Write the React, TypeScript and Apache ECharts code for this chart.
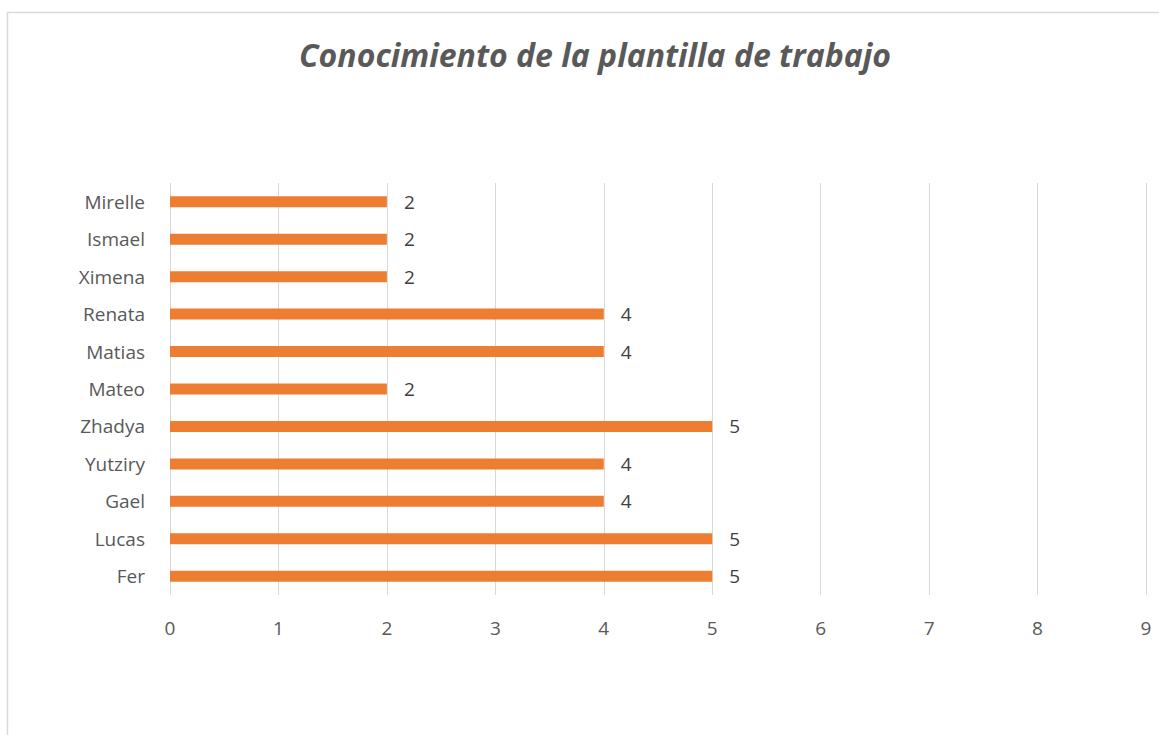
import React, { useEffect, useRef } from "react";
import * as echarts from "echarts";

const categories = ["Fer", "Lucas", "Gael", "Yutziry", "Zhadya", "Mateo", "Matias", "Renata", "Ximena", "Ismael", "Mirelle"];
const values = [5, 5, 4, 4, 5, 2, 4, 4, 2, 2, 2];
const xTicks = [0, 1, 2, 3, 4, 5, 6, 7, 8, 9];
const title = "Conocimiento de la plantilla de trabajo";

export default function App() {
  const ref = useRef<HTMLDivElement>(null);
  useEffect(() => {
    if (!ref.current) return;
    const chart = echarts.init(ref.current, undefined, { renderer: "svg" });
    chart.setOption({
      animation: false,
      backgroundColor: "#ffffff",
      title: {
        text: title,
        left: 590,
        textAlign: "center",
        top: 33,
        textStyle: {
          fontFamily: "Open Sans",
          fontStyle: "italic",
          fontWeight: "bold",
          fontSize: 32,
          color: "#595959",
        },
      },
      graphic: [
        {
          type: "rect",
          shape: { x: 7.5, y: 12.5, width: 1200, height: 800 },
          style: { fill: "none", stroke: "#d9d9d9", lineWidth: 1.5 },
          silent: true,
        },
      ],
      grid: { left: 170, right: 13, top: 183, bottom: 140, containLabel: false },
      xAxis: {
        type: "value",
        min: xTicks[0],
        max: xTicks[xTicks.length - 1],
        interval: 1,
        axisLine: { show: false },
        axisTick: { show: false },
        splitLine: { show: true, lineStyle: { color: "#d9d9d9", width: 1 } },
        axisLabel: { fontFamily: "Open Sans", fontSize: 19, color: "#595959", margin: 23 },
      },
      yAxis: {
        type: "category",
        data: categories,
        axisLine: { show: false },
        axisTick: { show: false },
        axisLabel: { fontFamily: "Open Sans", fontSize: 19, color: "#595959", margin: 25 },
      },
      series: [
        {
          type: "bar",
          data: values,
          barWidth: 11,
          itemStyle: { color: "#ED7D31" },
          label: {
            show: true,
            position: "right",
            distance: 17,
            fontFamily: "Open Sans",
            fontSize: 19,
            color: "#404040",
          },
        },
      ],
    });
    return () => chart.dispose();
  }, []);
  return <div ref={ref} style={{ position: "absolute", left: 0, top: 0, width: 1159, height: 735 }} />;
}
